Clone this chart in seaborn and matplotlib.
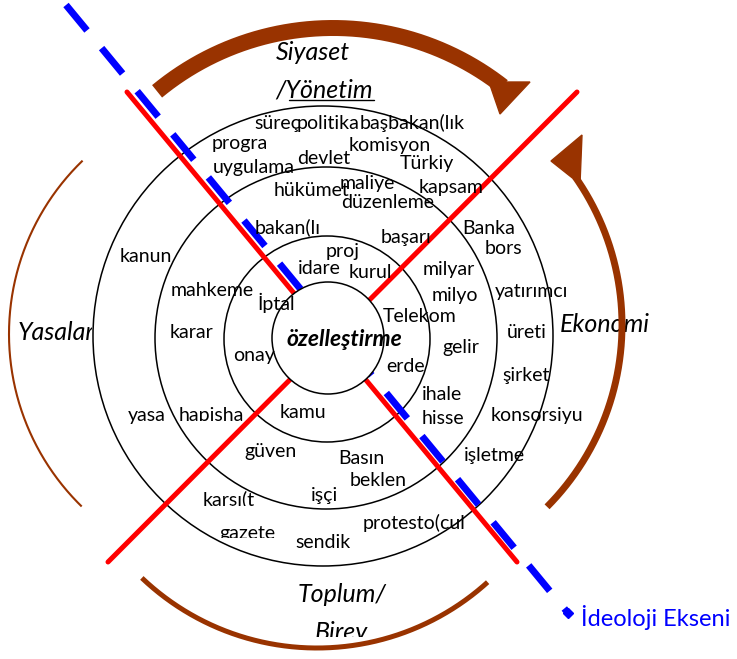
import numpy as np
import pandas as pd
import matplotlib
matplotlib.use("Agg")
import matplotlib.pyplot as plt
from matplotlib.patches import Circle, Polygon, Rectangle
import seaborn as sns

# ring words (text, centre x, centre y) in pixel coords of the 737x659 picture
words = ["süreç", "politika", "başbakan(lık", "progra", "komisyon", "devlet",
         "Türkiy", "uygulama", "maliye", "kapsam", "hükümet", "düzenleme",
         "bakan(lı", "Banka", "başarı", "bors", "proj", "kanun", "idare",
         "milyar", "kurul", "mahkeme", "yatırımcı", "milyo", "İptal", "Telekom",
         "karar", "üreti", "gelir", "onay", "erde", "şirket", "ihale", "kamu",
         "yasa", "hapisha", "konsorsiyu", "hisse", "güven", "işletme", "Basın",
         "beklen", "işçi", "karşı(t", "protesto(cul", "gazete", "sendik"]
word_x = [277, 328, 412, 240, 390, 324, 427, 254, 367, 451, 312, 388,
          288, 489, 406, 503, 343, 146, 319, 449, 370, 212, 531, 455, 276, 420,
          192, 527, 461, 254, 406, 526, 442, 303, 147, 211, 537, 443, 271, 494,
          361, 378, 325, 229, 414, 247, 323]
word_y = [123, 123, 123, 143, 145, 159, 163, 168, 183, 188, 190, 203,
          227, 228, 238, 248, 252, 257, 269, 270, 273, 291, 291, 295, 303, 317,
          333, 333, 348, 355, 367, 375, 395, 413, 416, 415, 415, 418, 452, 455,
          459, 480, 495, 500, 523, 533, 543]

# words cut off by their text box (bottom edge)
clip_bottom = {"hapisha": 421, "karşı(t": 506, "gazete": 538}

# sector labels
sectors = ["Siyaset", "/Yönetim", "Yasalar", "Ekonomi", "Toplum/", "Birey"]
sector_x = [313, 324, 56, 605, 342, 341]
sector_y = [53, 90, 332, 325, 595, 633]

center_word = "özelleştirme"
axis_label = "İdeoloji Ekseni"

# rings
ring_r = [56, 103, 171, 230]
ring_cx = [328, 327, 326, 323]
ring_cy = [338, 339, 338, 336]

# red cross lines and blue axis (end points)
red1_x, red1_y = [127, 517], [92, 562]
red2_x, red2_y = [577, 108], [92, 562]
blue_x, blue_y = [66, 568], [5, 613]

BROWN = "#993300"


def arc_points(cx, cy, r, a0, a1, n=200):
    t = np.radians(np.linspace(a0, a1, n))
    return cx + r * np.cos(t), cy - r * np.sin(t)


sns.set_style("white")
plt.rcParams["font.family"] = ["Lato", "DejaVu Sans"]

fig = plt.figure(figsize=(7.37, 6.59), dpi=100)
ax = fig.add_axes([0, 0, 1, 1])
ax.set_xlim(0, 737)
ax.set_ylim(659, 0)
ax.axis("off")

# rings
for r, cx, cy in zip(ring_r[1:], ring_cx[1:], ring_cy[1:]):
    ax.add_patch(Circle((cx, cy), r, fill=False, ec="black", lw=1.1, zorder=2))

# red lines + blue dashed axis
sns.lineplot(x=red1_x, y=red1_y, sort=False, estimator=None, color="red",
             lw=3.6, ax=ax, zorder=3)
sns.lineplot(x=red2_x, y=red2_y, sort=False, estimator=None, color="red",
             lw=3.6, ax=ax, zorder=3)
ax.plot(blue_x, blue_y, color="blue", lw=5, linestyle=(0, (4.75, 3.3)),
        dash_capstyle="butt", zorder=4)
ax.plot([blue_x[1]], [blue_y[1]], marker="D", color="blue", ms=5, zorder=4)

# inner circle covers the lines
ax.add_patch(Circle((ring_cx[0], ring_cy[0]), ring_r[0], fc="white", ec="black",
                    lw=1.1, zorder=5))

# brown arrows / arcs
x, y = arc_points(333, 304, 276, 129.6, 52.0)
ax.plot(x, y, color=BROWN, lw=11.5, solid_capstyle="butt", zorder=3)
ax.add_patch(Polygon([[489, 82], [530, 82], [500, 114]], color=BROWN, zorder=3))

x, y = arc_points(364, 325, 258, -44.8, 35.0)
ax.plot(x, y, color=BROWN, lw=5, solid_capstyle="butt", zorder=3)
ax.add_patch(Polygon([[582, 135], [551, 161], [580, 184]], color=BROWN, zorder=3))

x, y = arc_points(250, 334, 241, 134, 225.7)
ax.plot(x, y, color=BROWN, lw=1.5, solid_capstyle="butt", zorder=3)

x, y = arc_points(317, 394, 254, 226.4, 312.2)
ax.plot(x, y, color=BROWN, lw=3.6, solid_capstyle="butt", zorder=3)

# ring words
for w, wx, wy in zip(words, word_x, word_y):
    t = ax.text(wx, wy, w, ha="center", va="center", fontsize=14,
                color="black", zorder=6, clip_on=True)
    if w in clip_bottom:
        t.set_clip_path(Rectangle((0, 0), 737, clip_bottom[w],
                                  transform=ax.transData))

# sector labels
for s, sx, sy in zip(sectors, sector_x, sector_y):
    t = ax.text(sx, sy, s, ha="center", va="center", fontsize=18,
                style="italic", color="black", zorder=2, clip_on=True)
    if s == "Yasalar":
        t.set_clip_path(Rectangle((0, 0), 92, 659, transform=ax.transData))
    if s == "Birey":
        t.set_clip_path(Rectangle((0, 0), 737, 637, transform=ax.transData))
ax.plot([289, 374], [100, 100], color="black", lw=1.0, zorder=2)

ax.text(344, 340, center_word, ha="center", va="center", fontsize=16.5,
        style="italic", fontweight="bold", color="black", zorder=7)

ax.text(581, 618, axis_label, ha="left", va="center", fontsize=17,
        color="blue", zorder=6)

fig.savefig("out.png", dpi=100, facecolor="white")
